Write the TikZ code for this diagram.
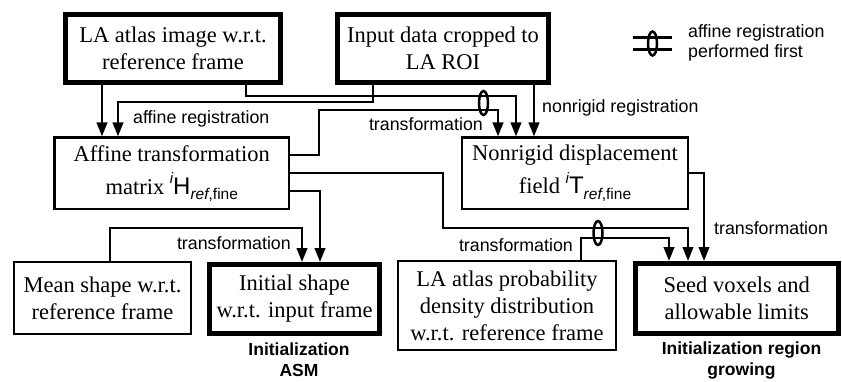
\documentclass[tikz,border=0pt]{standalone}
\usepackage{fontspec}
\setmainfont{Liberation Serif}
\setsansfont{Liberation Sans}
\usetikzlibrary{arrows.meta,shapes.geometric}
\newcommand{\symb}[1]{{\sffamily\raisebox{0.85ex}{\fontsize{15}{15}\selectfont\itshape i}{\fontsize{24}{27}\selectfont#1}\raisebox{-0.45ex}{\fontsize{15.5}{15}\selectfont\itshape ref\upshape ,fine}}}
\begin{document}
\begin{tikzpicture}[x=1pt,y=-1pt,
  box/.style={draw, line width=2.2pt, rectangle, inner sep=0pt, align=center, font=\fontsize{22.5}{27}\selectfont},
  thickbox/.style={box, line width=5pt},
  conn/.style={line width=2.5pt},
  arr/.style={conn, -{Triangle[length=14pt,width=10.5pt]}},
  lbl/.style={font=\sffamily\fontsize{17.8}{20}\selectfont, inner sep=0pt},
  blbl/.style={font=\sffamily\bfseries\fontsize{17.5}{21}\selectfont, inner sep=0pt, align=center},
  ring/.style={draw, ellipse, line width=2.5pt, minimum width=9pt, minimum height=24pt, inner sep=0pt},
]
\useasboundingbox (0,0) rectangle (842,381);

% boxes
\node[thickbox, minimum width=215pt, minimum height=68pt] (atlas) at (173,48.5) {LA atlas image w.r.t.\\reference frame};
\node[thickbox, minimum width=211pt, minimum height=68pt] (input) at (443,48.5) {Input data cropped to\\LA ROI};
\node[box, minimum width=234.5pt, minimum height=71.5pt] (affine) at (171.75,173.25) {Affine transformation\\[6pt]matrix \symb{H}};
\node[box, minimum width=226pt, minimum height=71.5pt] (nonrigid) at (575,173.25) {Nonrigid displacement\\[6pt]field \symb{T}};
\node[box, minimum width=176.5pt, minimum height=72pt] (mean) at (102.5,298.3) {Mean shape w.r.t.\\reference frame};
\node[thickbox, minimum width=170pt, minimum height=69pt] (initial) at (294.5,299) {Initial shape\\w.r.t. input frame};
\node[box, minimum width=218pt, minimum height=89pt] (prob) at (507,305.5) {LA atlas probability\\density distribution\\w.r.t. reference frame};
\node[thickbox, minimum width=202.5pt, minimum height=69.5pt] (seed) at (736.75,298.25) {Seed voxels and\\allowable limits};

% corner coordinates
\coordinate (a1) at (102,0);
\coordinate (b1) at (373,102); \coordinate (b2) at (118,102);
\coordinate (c1) at (246,96);  \coordinate (c2) at (516,96);
\coordinate (d1) at (534,0);
\coordinate (e1) at (319,155); \coordinate (e2) at (319,110); \coordinate (e3) at (498,110);
\coordinate (f1) at (320,191);
\coordinate (g1) at (443,173); \coordinate (g2) at (443,228); \coordinate (g3) at (688,228);
\coordinate (h1) at (704,173);
\coordinate (i1) at (110,228); \coordinate (i2) at (302,228);
\coordinate (j1) at (581,238); \coordinate (j2) at (669,238);

% connectors
\draw[arr] (atlas.south -| a1) -- (affine.north -| a1);
\draw[arr] (input.south -| b1) -- (b1) -- (b2) -- (affine.north -| b2);
\draw[arr] (atlas.south -| c1) -- (c1) -- (c2) -- (nonrigid.north -| c2);
\draw[arr] (input.south -| d1) -- (nonrigid.north -| d1);
\draw[arr] (affine.east |- e1) -- (e1) -- (e2) -- (e3) -- (nonrigid.north -| e3);
\draw[arr] (affine.east |- f1) -- (f1) -- (initial.north -| f1);
\draw[arr] (affine.east |- g1) -- (g1) -- (g2) -- (g3) -- (seed.north -| g3);
\draw[arr] (nonrigid.east |- h1) -- (h1) -- (seed.north -| h1);
\draw[arr] (mean.north -| i1) -- (i1) -- (i2) -- (initial.north -| i2);
\draw[arr] (prob.north -| j1) -- (j1) -- (j2) -- (seed.north -| j2);

% rings (affine registration performed first)
\node[ring] (r1) at (483.5,103) {};
\node[ring] (r2) at (598,233) {};

% legend
\node[ring] (r3) at (652.5,43.5) {};
\coordinate (la) at (633,37.5); \coordinate (lb) at (672,37.5);
\coordinate (lc) at (633,49.5); \coordinate (ld) at (672,49.5);
\draw[conn] (la) -- (lb);
\draw[conn] (lc) -- (ld);
\node[lbl, anchor=west, align=left] (leg) at (688,43) {affine registration\\performed first};

% labels
\node[lbl, anchor=west] (t1) at (133,119) {affine registration};
\node[lbl, anchor=east] (t2) at (483,124) {transformation};
\node[lbl, anchor=west] (t3) at (542,108) {nonrigid registration};
\node[lbl, anchor=east] (t4) at (291,243) {transformation};
\node[lbl, anchor=east] (t5) at (573,245) {transformation};
\node[lbl, anchor=west] (t6) at (714,228) {transformation};
\node[blbl] (asm) at (299,360) {Initialization\\ASM};
\node[blbl] (rg) at (741.5,360.5) {Initialization region\\growing};
\end{tikzpicture}
\end{document}
